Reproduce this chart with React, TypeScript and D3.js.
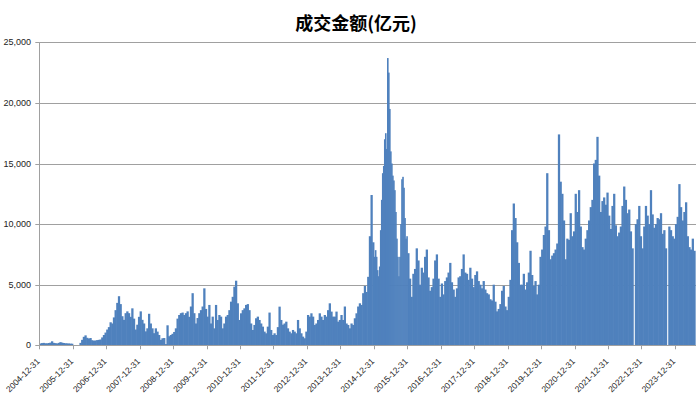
import React from "react";
import * as d3 from "d3";

const title = "成交金额(亿元)";
const years = [2005, 2006, 2007, 2008, 2009, 2010, 2011, 2012, 2013, 2014, 2015, 2016, 2017, 2018, 2019, 2020, 2021, 2022, 2023, 2024];
const yTicks = [0, 5000, 10000, 15000, 20000, 25000];
const tickYears = d3.range(2004, 2024);

const vol2005 = [150, 180, 200, 170, 160, 190, 220, 330, 200, 180, 150, 200, 260, 220, 190, 170, 160, 150, 140, 130];
const vol2006 = [0, 0, 0, 0, 200, 450, 700, 820, 620, 560, 600, 420, 380, 400, 430, 450, 480, 650, 850, 1050];
const vol2007 = [1300, 1500, 1900, 1800, 2300, 2900, 3500, 4050, 3400, 2400, 2100, 2650, 2800, 2650, 2350, 3050, 2200, 1300, 1700, 2350];
const vol2008 = [2800, 2100, 1800, 1150, 1400, 2600, 1800, 1400, 1000, 1400, 1130, 850, 450, 580, 600, 100, 1650, 750, 850, 950];
const vol2009 = [1100, 1400, 2200, 2500, 2650, 2700, 2500, 2650, 2800, 2350, 3200, 4300, 2650, 1800, 2250, 2650, 2900, 3200, 4700, 3000];
const vol2010 = [2365, 3330, 1800, 2365, 1400, 3330, 2090, 2500, 2365, 1400, 1800, 2365, 2500, 2900, 3600, 4000, 4840, 5330, 3465, 2090];
const vol2011 = [2640, 2900, 3050, 3330, 3400, 2900, 1800, 1265, 1680, 2230, 2365, 2090, 1800, 1540, 1130, 990, 1540, 2700, 1265, 850];
const vol2012 = [990, 850, 1500, 3190, 2090, 1700, 1800, 1950, 1400, 1130, 990, 1265, 1130, 990, 2090, 1400, 990, 715, 580, 1130];
const vol2013 = [2500, 2365, 2640, 2365, 1680, 1800, 2090, 2640, 2365, 2090, 2500, 2365, 2900, 3465, 2780, 2365, 2365, 2780, 1950, 2090];
const vol2014 = [2500, 2090, 3200, 1800, 1680, 1400, 1800, 1680, 2230, 2640, 3200, 3465, 3330, 4300, 4900, 4400, 5650, 9000, 12400, 8500];
const vol2015 = [7300, 7850, 7300, 6200, 5700, 6500, 9500, 12000, 14200, 14800, 17000, 17500, 16200, 23700, 22500, 19500, 16000, 15000, 14000, 13600, 12800, 11000, 8800, 7300, 5700, 7300, 10000, 13700, 13900, 13000, 10500, 8800, 9000];
const vol2016 = [7600, 5500, 4000, 5900, 6300, 8000, 7000, 5000, 6400, 6000, 7300, 7900, 5600, 4500, 4800, 5500, 7000, 7500, 5500, 4000];
const vol2017 = [5100, 4200, 5300, 5600, 6000, 6800, 5200, 4600, 4000, 4700, 5600, 5700, 6300, 7500, 6000, 5900, 5400, 6400, 5500, 4800];
const vol2018 = [5800, 6100, 5300, 5000, 4700, 5300, 4600, 4300, 4200, 3800, 3700, 5000, 3600, 2800, 3000, 3400, 4500, 4900, 3200, 2900];
const vol2019 = [4000, 5400, 9500, 11700, 10500, 8500, 6800, 5000, 5000, 5900, 4600, 5200, 6000, 7800, 5800, 4900, 5300, 4200, 5000, 7300];
const vol2020 = [7900, 9100, 9800, 14200, 9500, 7100, 7400, 7600, 7900, 8400, 17400, 13500, 12500, 10300, 7100, 8800, 8700, 10900, 9000, 9400];
const vol2021 = [12500, 11000, 12800, 9800, 8100, 7900, 8800, 9500, 10300, 11400, 12000, 15000, 15300, 17200, 14000, 11000, 11900, 12200, 11600, 12600];
const vol2022 = [10700, 9600, 11500, 12500, 9900, 9000, 9300, 9800, 11500, 13100, 12000, 10900, 11200, 9400, 8000, 0, 10000, 10400, 11500, 9000];
const vol2023 = [8000, 9800, 11500, 10700, 10000, 12800, 10800, 9700, 10000, 10500, 10400, 10900, 9200, 9500, 8000, 0, 9800, 9500, 9000, 8800];
const vol2024 = [10000, 10600, 13300, 11400, 10300, 11000, 11800, 9000, 8100, 7900, 8800, 7800];

const yearValues = [vol2005, vol2006, vol2007, vol2008, vol2009, vol2010, vol2011, vol2012, vol2013, vol2014, vol2015, vol2016, vol2017, vol2018, vol2019, vol2020, vol2021, vol2022, vol2023, vol2024];
const periodsPerYear = 20;

const W = 700;
const H = 398;
const left = 39.3;
const right = 696;
const top = 42.3;
const bottom = 345.3;

export default function App() {
  const x = d3.scaleTime().domain([new Date(2004, 11, 31), new Date(2024, 7, 17)]).range([left, right]);
  const y = d3.scaleLinear().domain([0, 25000]).range([bottom, top]);
  const fmt = d3.format(",");
  const dfmt = d3.timeFormat("%Y-%m-%d");

  const bars: { x0: number; x1: number; v: number }[] = [];
  years.forEach((yr, k) => {
    const vals = yearValues[k];
    const n = Math.max(periodsPerYear, vals.length);
    const interp = d3.interpolateDate(new Date(yr - 1, 11, 31), new Date(yr, 11, 31));
    vals.forEach((v, i) => {
      bars.push({ x0: x(interp(i / n)), x1: x(interp((i + 1) / n)), v });
    });
  });

  const font = "'Liberation Sans', Arial, sans-serif";

  return (
    <svg width={W} height={H} style={{ position: "absolute", left: 0, top: 0, background: "#fff" }}>
      <text x={356} y={30} textAnchor="middle" fontSize={18} fontWeight="bold" fontFamily="'Noto Sans CJK SC', sans-serif" fill="#000">
        {title}
      </text>
      {yTicks.map((t) => (
        <g key={t}>
          {t > 0 && <line x1={left} x2={right} y1={Math.round(y(t)) + 0.5} y2={Math.round(y(t)) + 0.5} stroke="#a0a0a0" strokeWidth={1} />}
          <line x1={left - 4} x2={left} y1={Math.round(y(t)) + 0.5} y2={Math.round(y(t)) + 0.5} stroke="#a0a0a0" />
          <text x={31} y={y(t) + 3} textAnchor="end" fontSize={9} fontFamily={font} fill="#222">
            {fmt(t)}
          </text>
        </g>
      ))}
      <g fill="#4f81bd">
        {bars.filter((b) => b.v > 0).map((b, i) => (
          <rect key={i} x={b.x0} width={b.x1 - b.x0 + 0.6} y={y(b.v)} height={bottom - y(b.v)} />
        ))}
      </g>
      <line x1={Math.round(left) + 0.5} x2={Math.round(left) + 0.5} y1={top} y2={bottom} stroke="#a0a0a0" />
      <line x1={left} x2={right} y1={Math.round(bottom) + 0.5} y2={Math.round(bottom) + 0.5} stroke="#a0a0a0" />
      {tickYears.map((yr) => {
        const d = new Date(yr, 11, 31);
        const tx = x(d);
        return (
          <g key={yr}>
            <line x1={Math.round(tx) + 0.5} x2={Math.round(tx) + 0.5} y1={bottom} y2={bottom + 4} stroke="#a0a0a0" />
            <text transform={`translate(${tx + 1},${362}) rotate(-45)`} textAnchor="end" fontSize={8.5} fontFamily={font} fill="#222">
              {dfmt(d)}
            </text>
          </g>
        );
      })}
    </svg>
  );
}
